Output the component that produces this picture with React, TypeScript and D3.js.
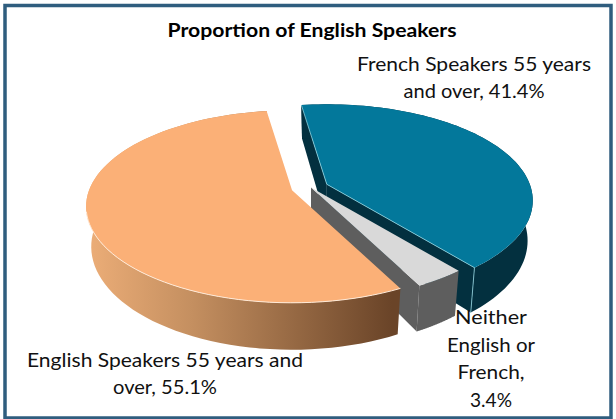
import React from "react";
import * as d3 from "d3";

const categories = ["French Speakers 55 years and over", "Neither English or French", "English Speakers 55 years and over"];
const shares = [41.4, 3.4, 55.1];
const explode = [0.085, 0, 0.098];
const topColors = ["#03789B", "#D9D9D9", "#FBB077"];
const sideColors = ["#03303F", "#5E5E5E", "url(#rim)"];
const titleText = "Proportion of English Speakers";

const W = 616, H = 419;
const cx = 311, cy = 187.5, R = 203, K = 93.5, P = 0.169, DEPTH = 39, SHRINK = 0.975;
const START = (-8.4 * Math.PI) / 180;

const arcs = d3.pie<number>().sort(null).startAngle(START).endAngle(START + 2 * Math.PI)(shares);
const line = d3.line<[number, number]>();
type Pt = [number, number];

function apexOf(i: number): Pt {
  const m = (arcs[i].startAngle + arcs[i].endAngle) / 2;
  return [cx + explode[i] * R * Math.sin(m), cy - explode[i] * K * Math.cos(m)];
}
function proj(i: number, a: number, r = 1): Pt {
  const [ax, ay] = apexOf(i);
  const u = r * Math.sin(a), v = -r * Math.cos(a);
  const w = 1 - P * v;
  return [ax + (R * u) / w, ay + (K * v) / w];
}
function lower(i: number, a: number, r = 1): Pt {
  const [ax] = apexOf(i);
  const [x, y] = proj(i, a, r);
  const v = -r * Math.cos(a);
  const w = 1 - P * v;
  return [ax + (x - ax) * SHRINK, y + DEPTH / w];
}
function edge(i: number, fn: (i: number, a: number) => Pt): Pt[] {
  const { startAngle: s, endAngle: e } = arcs[i];
  return d3.range(0, 81).map((k) => fn(i, s + ((e - s) * k) / 80));
}
const topFace = (i: number) => line([apexOf(i), ...edge(i, proj)]) + "Z";
const rim = (i: number) => line([...edge(i, proj), ...edge(i, lower).reverse()]) + "Z";
const cut = (i: number, a: number) => line([apexOf(i), proj(i, a), lower(i, a), lower(i, a, 0)]) + "Z";

const labels: { t: string; x: number; y: number; len: number }[] = [
  { t: "French Speakers 55 years", x: 474, y: 71, len: 234 },
  { t: "and over, 41.4%", x: 474, y: 98, len: 141 },
  { t: "Neither", x: 491, y: 324, len: 72 },
  { t: "English or", x: 491, y: 352, len: 88 },
  { t: "French,", x: 491, y: 379, len: 67 },
  { t: "3.4%", x: 491, y: 407, len: 42 },
  { t: "English Speakers 55 years and", x: 165, y: 367, len: 276 },
  { t: "over, 55.1%", x: 165, y: 394, len: 104 },
];

export default function App() {
  return (
    <svg width={W} height={H} style={{ position: "fixed", left: 0, top: 0 }} fontFamily="Lato, Carlito, sans-serif">
      <defs>
        <linearGradient id="rim" gradientUnits="userSpaceOnUse" x1={85} x2={392} y1={0} y2={0}>
          <stop offset="0" stopColor="#EDAE78" />
          <stop offset="0.35" stopColor="#C48F60" />
          <stop offset="1" stopColor="#6A4428" />
        </linearGradient>
      </defs>
      <rect x={0} y={0} width={W} height={H} fill="#fff" />
      <rect x={5} y={5.5} width={606} height={412.5} fill="#fff" stroke="#2F5D7E" strokeWidth={3.5} />

      {/* French */}
      <path d={cut(0, arcs[0].startAngle)} fill={sideColors[0]} />
      <path d={cut(0, arcs[0].endAngle)} fill={sideColors[0]} />
      <path d={rim(0)} fill={sideColors[0]} />
      <path d={topFace(0)} fill={topColors[0]} />
      <path d={line([proj(0, arcs[0].startAngle), apexOf(0), proj(0, arcs[0].endAngle), lower(0, arcs[0].endAngle)])!} fill="none" stroke="#8FD3E0" strokeWidth={0.8} />
      {/* Neither */}
      <path d={rim(1)} fill={sideColors[1]} />
      <path d={cut(1, arcs[1].endAngle)} fill={sideColors[1]} />
      <path d={topFace(1)} fill={topColors[1]} />
      {/* English */}
      <path d={rim(2)} fill={sideColors[2]} />
      <path d={topFace(2)} fill={topColors[2]} />
      <path d={line(edge(2, proj).filter((p) => p[1] > apexOf(2)[1] + 20))!} fill="none" stroke="#FFE9D6" strokeWidth={1} />

      <text x={312} y={37} textAnchor="middle" fontSize={19.5} fontWeight={700} fill="#000" textLength={289} lengthAdjust="spacingAndGlyphs">{titleText}</text>
      {labels.map((l) => (
        <text key={l.t} x={l.x} y={l.y} textAnchor="middle" fontSize={20} fill="#111" textLength={l.len} lengthAdjust="spacingAndGlyphs">{l.t}</text>
      ))}
    </svg>
  );
}
